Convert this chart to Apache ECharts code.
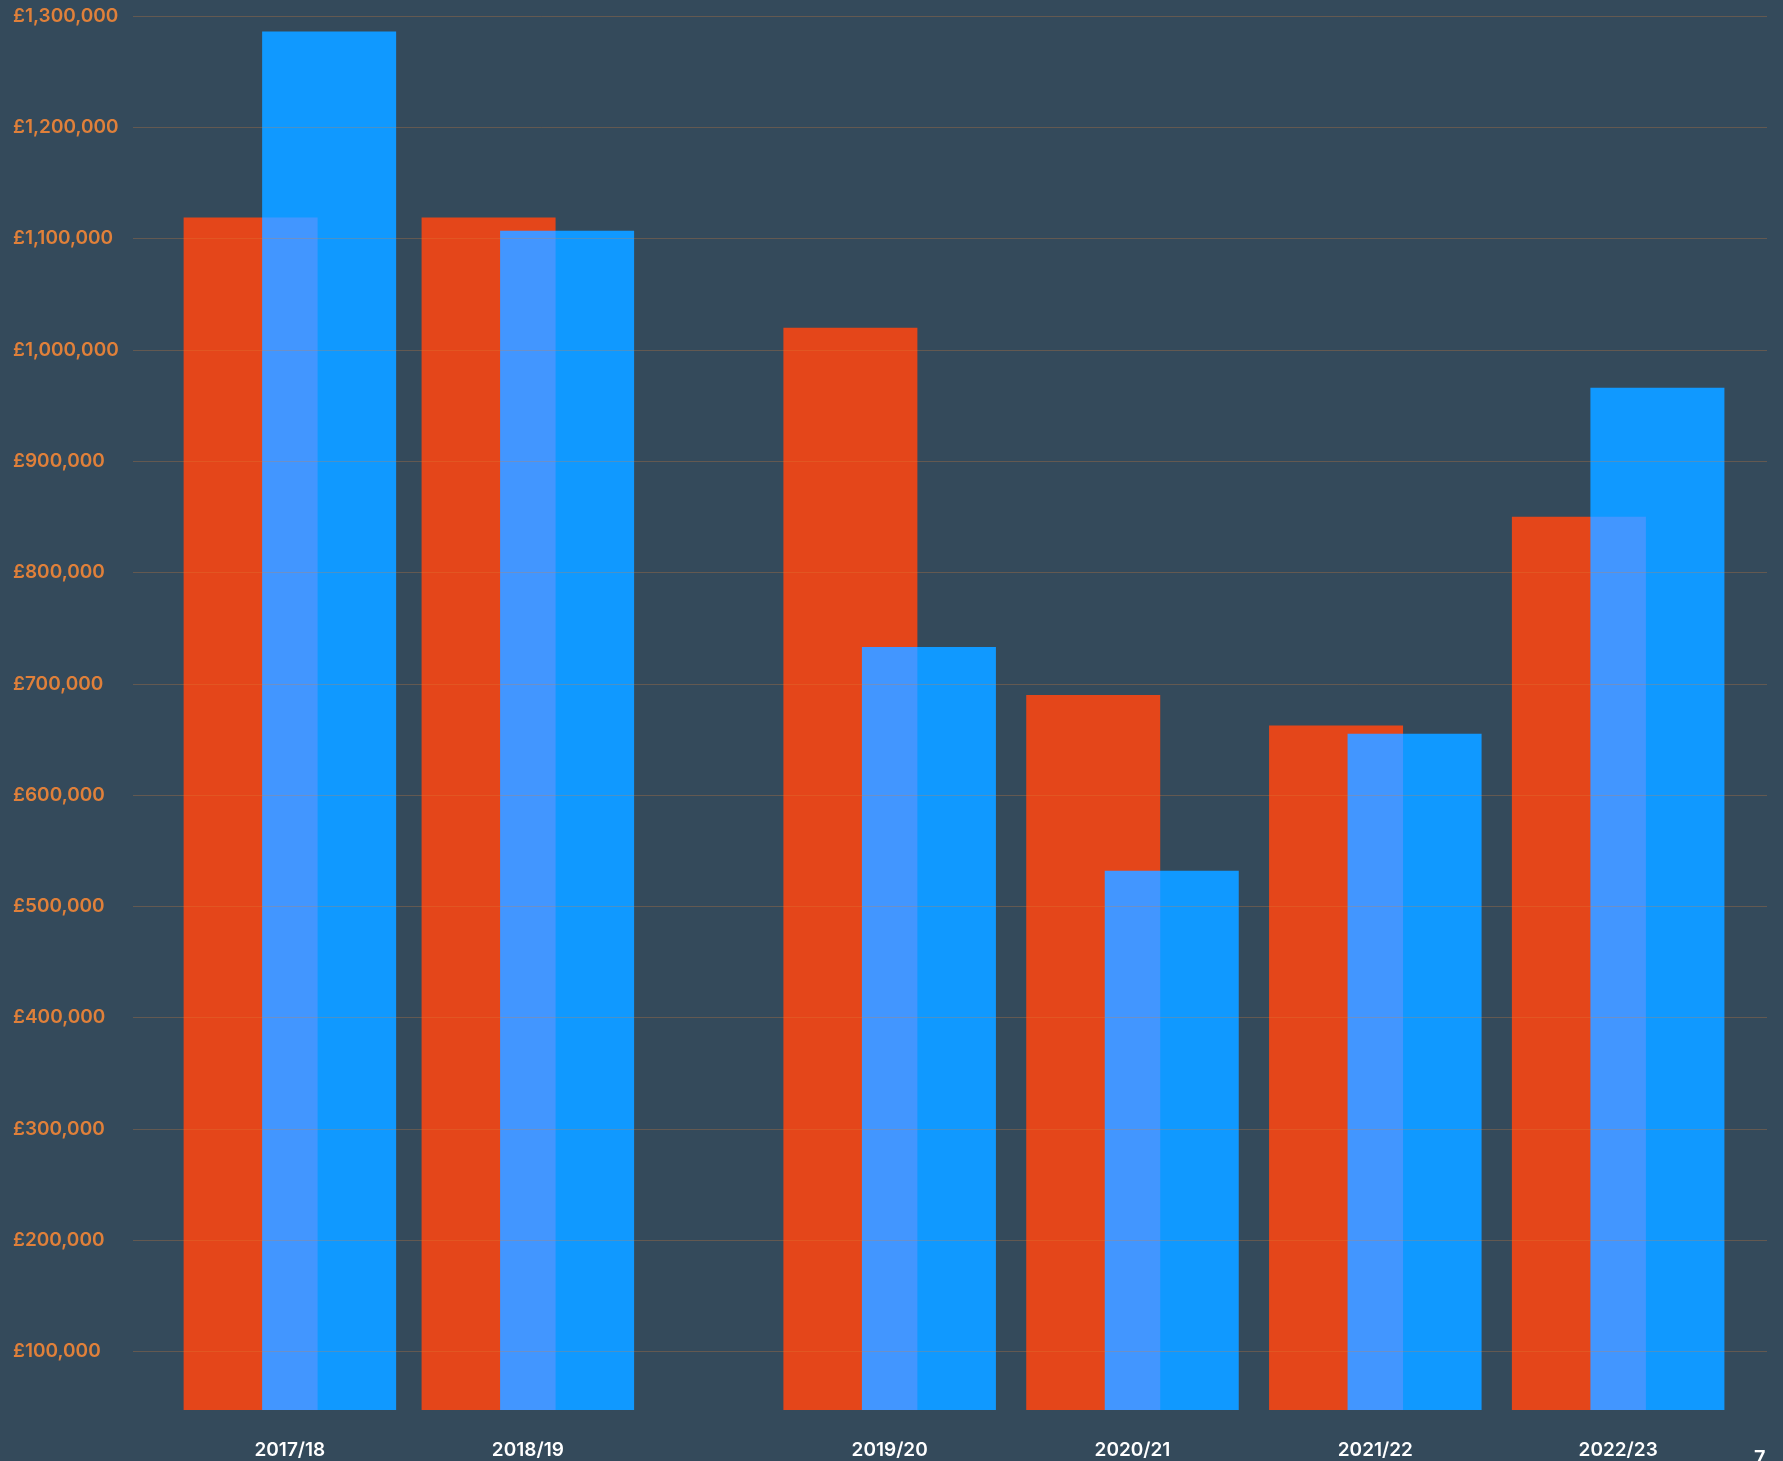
<!DOCTYPE html>
<html>
<head>
<meta charset="utf-8">
<script src="https://cdn.jsdelivr.net/npm/echarts@6/dist/echarts.min.js"></script>
<style>
html,body{margin:0;padding:0;background:#344a5b;}
#chart{width:1783px;height:1461px;}
</style>
</head>
<body>
<div id="chart"></div>
<script>
// Periods (x categories) and where each sits on the x scale (uneven spacing as in the source)
const periods = ['2017/18', '2018/19', '2019/20', '2020/21', '2021/22', '2022/23'];
const periodX = [0, 0.98, 2.47, 3.47, 4.47, 5.47];
// Series values (£)
const valuesA = [1119000, 1119000, 1020000, 690000, 662500, 850000];
const valuesB = [1286000, 1107000, 733000, 532000, 655000, 966000];
// Corner page marker
const pageMark = '7';

const chart = echarts.init(document.getElementById('chart'), null, {renderer: 'canvas'});

const fontFamily = 'Inter, Lato, "Noto Sans", sans-serif';

const option = {
  backgroundColor: '#344a5b',
  animation: false,
  grid: { left: 133, right: 16, top: 16, bottom: 51, containLabel: false },
  xAxis: {
    type: 'value',
    min: -0.646,
    max: 6.083,
    axisLine: { show: false },
    axisTick: { show: false },
    splitLine: { show: false },
    axisLabel: {
      customValues: periodX,
      margin: 31,
      color: '#ffffff',
      fontFamily: fontFamily,
      fontWeight: 600,
      fontSize: 19,
      formatter: function (v) {
        let best = 0, d = Infinity;
        periodX.forEach((p, i) => { if (Math.abs(p - v) < d) { d = Math.abs(p - v); best = i; } });
        return periods[best];
      }
    }
  },
  yAxis: {
    type: 'value',
    min: 47500,
    max: 1300000,
    splitNumber: 12,
    z: 5,
    axisLine: { show: false },
    axisTick: { show: false },
    axisLabel: {
      showMinLabel: false,
      align: 'left',
      margin: 120,
      color: '#e0803a',
      fontFamily: fontFamily,
      fontWeight: 600,
      fontSize: 19,
      formatter: function (v) { return '£' + v.toLocaleString('en-GB'); }
    },
    splitLine: {
      showMinLine: false,
      lineStyle: { color: 'rgba(224,128,58,0.28)', width: 1 }
    }
  },
  series: [
    {
      name: 'A',
      type: 'bar',
      barWidth: 134,
      barGap: '-41.4%',
      itemStyle: { color: '#e4461a' },
      data: valuesA.map((v, i) => [periodX[i], v])
    },
    {
      name: 'B',
      type: 'bar',
      barWidth: 134,
      barGap: '-41.4%',
      blendMode: 'hard-light',
      itemStyle: { color: '#25b7ff' },
      data: valuesB.map((v, i) => [periodX[i], v])
    }
  ],
  graphic: [
    {
      type: 'text',
      left: 1754,
      top: 1449,
      style: { text: pageMark, fill: '#ffffff', font: '600 20px ' + fontFamily }
    }
  ]
};

chart.setOption(option);
</script>
</body>
</html>
